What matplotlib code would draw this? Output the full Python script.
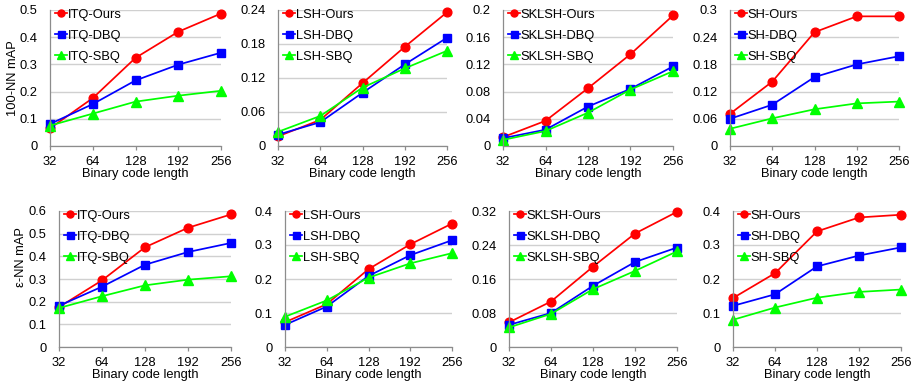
import matplotlib
matplotlib.use("Agg")
import matplotlib.pyplot as plt
from matplotlib.ticker import FixedLocator

plt.rcParams['font.family'] = ['Liberation Sans', 'DejaVu Sans']

code_lengths = ["32", "64", "128", "192", "256"]
methods = ["ITQ", "LSH", "SKLSH", "SH"]

# Top row: 100-NN mAP
itq_ours_100 = [0.065, 0.176, 0.324, 0.420, 0.487]
itq_dbq_100 = [0.081, 0.154, 0.241, 0.299, 0.343]
itq_sbq_100 = [0.075, 0.119, 0.163, 0.185, 0.203]

lsh_ours_100 = [0.017, 0.046, 0.111, 0.175, 0.236]
lsh_dbq_100 = [0.020, 0.042, 0.094, 0.144, 0.191]
lsh_sbq_100 = [0.025, 0.053, 0.103, 0.137, 0.168]

sklsh_ours_100 = [0.013, 0.037, 0.085, 0.135, 0.192]
sklsh_dbq_100 = [0.0115, 0.024, 0.058, 0.084, 0.117]
sklsh_sbq_100 = [0.009, 0.022, 0.049, 0.083, 0.110]

sh_ours_100 = [0.071, 0.142, 0.251, 0.286, 0.286]
sh_dbq_100 = [0.060, 0.091, 0.152, 0.180, 0.198]
sh_sbq_100 = [0.038, 0.061, 0.081, 0.094, 0.098]

# Bottom row: eps-NN mAP
itq_ours_eps = [0.176, 0.294, 0.440, 0.526, 0.585]
itq_dbq_eps = [0.182, 0.266, 0.363, 0.419, 0.459]
itq_sbq_eps = [0.172, 0.224, 0.272, 0.297, 0.312]

lsh_ours_eps = [0.073, 0.126, 0.229, 0.302, 0.363]
lsh_dbq_eps = [0.065, 0.119, 0.209, 0.270, 0.314]
lsh_sbq_eps = [0.089, 0.137, 0.204, 0.246, 0.276]

sklsh_ours_eps = [0.058, 0.107, 0.189, 0.267, 0.318]
sklsh_dbq_eps = [0.052, 0.080, 0.144, 0.200, 0.234]
sklsh_sbq_eps = [0.046, 0.078, 0.136, 0.179, 0.225]

sh_ours_eps = [0.144, 0.217, 0.340, 0.381, 0.389]
sh_dbq_eps = [0.121, 0.155, 0.237, 0.269, 0.293]
sh_sbq_eps = [0.080, 0.116, 0.145, 0.162, 0.169]

top_data = [
    (itq_ours_100, itq_dbq_100, itq_sbq_100),
    (lsh_ours_100, lsh_dbq_100, lsh_sbq_100),
    (sklsh_ours_100, sklsh_dbq_100, sklsh_sbq_100),
    (sh_ours_100, sh_dbq_100, sh_sbq_100),
]
bottom_data = [
    (itq_ours_eps, itq_dbq_eps, itq_sbq_eps),
    (lsh_ours_eps, lsh_dbq_eps, lsh_sbq_eps),
    (sklsh_ours_eps, sklsh_dbq_eps, sklsh_sbq_eps),
    (sh_ours_eps, sh_dbq_eps, sh_sbq_eps),
]

top_ylim = [(0.5, 0.1, "{:.1f}"), (0.24, 0.06, "{:g}"), (0.2, 0.04, "{:g}"), (0.3, 0.06, "{:g}")]
bot_ylim = [(0.6, 0.1, "{:.1f}"), (0.4, 0.1, "{:.1f}"), (0.32, 0.08, "{:g}"), (0.4, 0.1, "{:.1f}")]

W, H = 916, 382
fig = plt.figure(figsize=(W / 100, H / 100), dpi=100)

top_px = [(50, 221), (278, 447), (503, 673), (730, 899)]
bot_px = [(59, 231), (285, 452), (509, 677), (733, 901)]
top_y = (10, 146)
bot_y = (211, 347)

series_style = [
    ("Ours", "#FF0000", "o", 6.3),
    ("DBQ", "#0000FF", "s", 6.3),
    ("SBQ", "#00FF00", "^", 7.3),
]

FS = 9.3
xs = list(range(len(code_lengths)))


def fmt(v, f):
    s = f.format(v)
    if s == "0.0" or s == "0":
        return "0"
    return s


def make_panel(px, py, method, data, ylimspec, ylabel, ylabel_y):
    x0, x1 = px
    y0, y1 = py
    ax = fig.add_axes([x0 / W, 1 - y1 / H, (x1 - x0) / W, (y1 - y0) / H])
    for (name, color, marker, ms), vals in zip(series_style, data):
        ax.plot(xs, vals, color=color, marker=marker, markersize=ms, linewidth=1.25,
                label=f"{method}-{name}", clip_on=False)
    ymax, step, f = ylimspec
    ax.set_xlim(0, len(code_lengths) - 1)
    ax.set_ylim(0, ymax)
    n = int(round(ymax / step))
    ticks = [i * step for i in range(n + 1)]
    ax.yaxis.set_major_locator(FixedLocator(ticks))
    ax.set_yticklabels([fmt(t, f) for t in ticks])
    ax.set_xticks(xs)
    ax.set_xticklabels(code_lengths)
    ax.grid(axis='y', color='#D0D0D0', linewidth=1.0)
    ax.set_axisbelow(True)
    for s in ['top', 'right']:
        ax.spines[s].set_visible(False)
    for s in ['left', 'bottom']:
        ax.spines[s].set_color('#8C8C8C')
        ax.spines[s].set_linewidth(0.9)
    ax.tick_params(axis='y', length=0, pad=9, labelsize=FS, colors='black')
    ax.tick_params(axis='x', length=3, width=0.9, color='#8C8C8C', pad=4, labelsize=FS,
                   labelcolor='black')
    ax.set_xlabel("Binary code length", fontsize=FS)
    ax.xaxis.set_label_coords(0.5, -28 / (y1 - y0))
    ax.xaxis.label.set_va('center')
    if ylabel:
        ax.set_ylabel(ylabel, fontsize=FS)
        ax.yaxis.set_label_coords(-(x0 - (13 if y0 < 100 else 21)) / (x1 - x0), ylabel_y)
        ax.yaxis.label.set_va('center')
    ax.legend(loc='upper left', frameon=False, fontsize=FS, handlelength=0.95,
              handletextpad=0.05, labelspacing=0.7, markerscale=0.8,
              borderaxespad=0.0, borderpad=0.0,
              bbox_to_anchor=(5 / (x1 - x0), 1 + 1.5 / (y1 - y0)))
    return ax


for i, m in enumerate(methods):
    make_panel(top_px[i], top_y, m, top_data[i], top_ylim[i],
               "100-NN mAP" if i == 0 else None, 0.5)
    make_panel(bot_px[i], bot_y, m, bottom_data[i], bot_ylim[i],
               "\u03b5-NN mAP" if i == 0 else None, 0.66)

fig.savefig("out.png", dpi=100)
